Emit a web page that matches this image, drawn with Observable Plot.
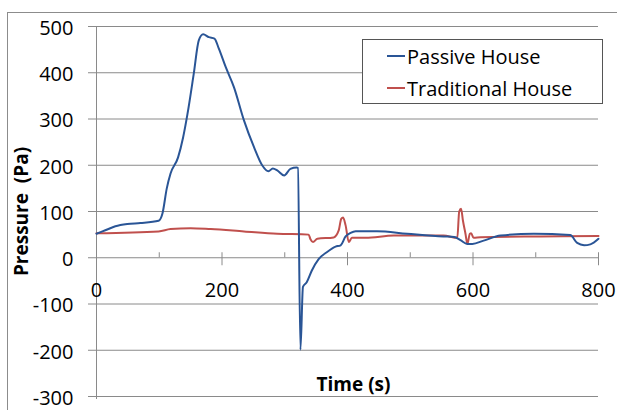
<!DOCTYPE html>
<html>
<head>
<meta charset="utf-8">
<script src="https://cdn.jsdelivr.net/npm/d3@7"></script>
<script src="https://cdn.jsdelivr.net/npm/@observablehq/plot@0.6"></script>
<style>
  html, body { margin: 0; padding: 0; background: #fff; overflow: hidden; }
  #wrap { position: relative; width: 617px; height: 410px; overflow: hidden; font-family: "Open Sans", sans-serif; }
  #border { position: absolute; left: 7px; top: 12px; width: 700px; height: 500px; border: 1px solid #8c8c8c; box-sizing: border-box; }
  #chart { position: absolute; left: 0; top: 0; }
  #legend { position: absolute; left: 362px; top: 39px; width: 241px; height: 65px; border: 1px solid #555; background: #fff; box-sizing: border-box; }
  .item { position: absolute; left: 24px; height: 30px; display: flex; align-items: center; font-size: 20px; color: #000; white-space: nowrap; }
  .sw { width: 18px; height: 2px; margin-right: 2px; }
</style>
</head>
<body>
<div id="wrap">
  <div id="border"></div>
  <div id="chart"></div>
  <div id="legend"></div>
</div>
<script>
const seriesNames = ["Passive House", "Traditional House"];
const seriesColors = ["#2a5596", "#c0504d"];

const passiveTime = [0,15,30,49,70,99,105,112,118,130,138,145,155,163,170,179,188,195,206,219,235,251,264,274,281,288,299,309,319,321,325,329,335,343,354,367,381,389,397,405,413,447,495,553,570,580,591,599,617,644,697,755,766,777,787,800];
const passivePressure = [52,60,68,73,75,80,95,150,182,217,260,311,398,470,483,477,474,452,412,369,297,239,200,187,193,189,178,192,195,194,-199,-63,-53,-28,-3,12,24,27,46,54,57.5,57.5,52,46,45,38,30,30,37,48,52,49,32,27,29,41];

const tradTime = [0,99,118,150,182,235,288,338,341,345,352,378,386,390,393,397,402,407,429,474,553,575,578,581,584,588,591,595,597,601,612,707,800];
const tradPressure = [53,57,62,64,62,57,52,50,40,34,41,44,59,84,87,70,34,43,43,48,48,43,100,106,80,52,30,52,53,43,44.5,46,47];

const yTicks = [-300,-200,-100,0,100,200,300,400,500];
const xMajorTicks = [0,200,400,600,800];
const xMinorTicks = [100,300,500,700];
const xLabel = "Time (s)";
const yLabel = "Pressure  (Pa)";

const passive = passiveTime.map((t, i) => ({t, p: passivePressure[i]}));
const trad = tradTime.map((t, i) => ({t, p: tradPressure[i]}));

const grid = "#8a8a8a";

const chart = Plot.plot({
  width: 617,
  height: 410,
  marginLeft: 96,
  marginRight: 19,
  marginTop: 26,
  marginBottom: 14,
  style: {fontFamily: "Open Sans, sans-serif", background: "transparent", color: "#000"},
  x: {domain: [0, 800], axis: null},
  y: {domain: [-300, 500], axis: null},
  marks: [
    Plot.ruleY(yTicks, {stroke: grid, strokeWidth: 1, insetLeft: -8}),
    Plot.ruleX([0], {stroke: grid, strokeWidth: 1, insetBottom: -3}),
    Plot.ruleX(xMajorTicks, {x: d => d, y1: 0, y2: 0, insetTop: -5, insetBottom: -8, stroke: grid}),
    Plot.ruleX(xMinorTicks, {x: d => d, y1: 0, y2: 0, insetTop: -5, insetBottom: 0, stroke: grid}),
    Plot.text(yTicks, {x: 0, y: d => d, text: d => String(d), textAnchor: "end", dx: -23, dy: 2, fontSize: 20, fill: "#000"}),
    Plot.text(xMajorTicks, {x: d => d, y: 0, text: d => String(d), textAnchor: "middle", dy: 33, fontSize: 20, fill: "#000"}),
    Plot.text([xLabel], {frameAnchor: "bottom", text: d => d, textAnchor: "middle", lineAnchor: "bottom", dx: 6, dy: -6, fontSize: 19, fontWeight: "bold", fill: "#000"}),
    Plot.text([yLabel], {frameAnchor: "left", text: d => d, textAnchor: "middle", rotate: -90, dx: -75, dy: 0, fontSize: 19, fontWeight: "bold", fill: "#000"}),
    Plot.line(trad, {x: "t", y: "p", stroke: seriesColors[1], strokeWidth: 2, curve: "monotone-x"}),
    Plot.line(passive, {x: "t", y: "p", stroke: seriesColors[0], strokeWidth: 2, curve: "monotone-x"})
  ]
});
document.getElementById("chart").appendChild(chart);

const legend = document.getElementById("legend");
seriesNames.forEach((name, i) => {
  const item = document.createElement("div");
  item.className = "item";
  item.style.top = (i === 0 ? 1 : 33) + "px";
  const sw = document.createElement("span");
  sw.className = "sw";
  sw.style.background = seriesColors[i];
  const tx = document.createElement("span");
  tx.textContent = name;
  item.appendChild(sw);
  item.appendChild(tx);
  legend.appendChild(item);
});
</script>
</body>
</html>
